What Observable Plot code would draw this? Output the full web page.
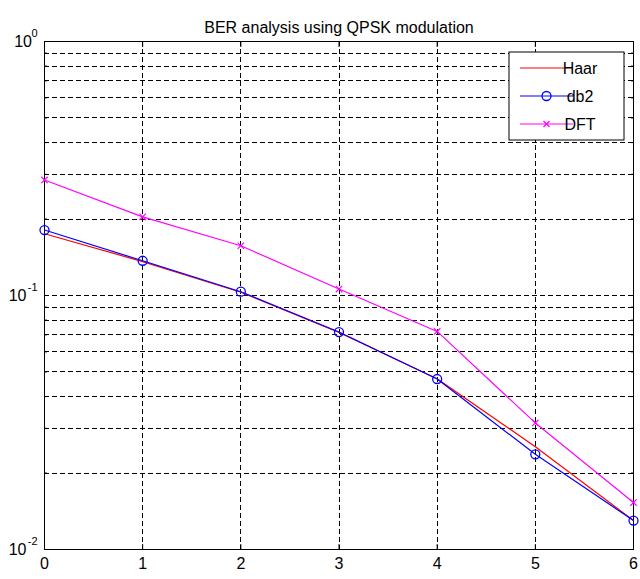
<!DOCTYPE html>
<html>
<head>
<meta charset="utf-8">
<script src="https://cdn.jsdelivr.net/npm/d3@7"></script>
<script src="https://cdn.jsdelivr.net/npm/@observablehq/plot@0.6"></script>
<style>
  html, body { margin: 0; padding: 0; background: #fff; }
  #chart { width: 640px; height: 579px; }
</style>
</head>
<body>
<div id="chart"></div>
<script>
// ---- data ----
const snr = [0, 1, 2, 3, 4, 5, 6];
const haar = [0.175, 0.136, 0.103, 0.0715, 0.047, 0.0254, 0.0130];
const db2  = [0.181, 0.137, 0.1035, 0.0718, 0.0469, 0.0237, 0.0130];
const dft  = [0.285, 0.204, 0.157, 0.106, 0.0722, 0.0315, 0.0153];
const seriesNames = ["Haar", "db2", "DFT"];
const xTicks = [0, 1, 2, 3, 4, 5, 6];
const xGrid = [1, 2, 3, 4, 5];
const yMajor = [1, 0.1, 0.01];
const yExponents = ["0", "-1", "-2"];
const yMinor = [0.02, 0.03, 0.04, 0.05, 0.06, 0.07, 0.08, 0.09, 0.2, 0.3, 0.4, 0.5, 0.6, 0.7, 0.8, 0.9];
const yGrid = [0.02, 0.03, 0.04, 0.05, 0.06, 0.07, 0.08, 0.09, 0.1, 0.2, 0.3, 0.4, 0.5, 0.6, 0.7, 0.8, 0.9];
const title = "BER analysis using QPSK modulation";

const rows = [];
seriesNames.forEach((name, k) => {
  const vals = [haar, db2, dft][k];
  snr.forEach((x, i) => rows.push({series: name, x, y: vals[i]}));
});
const colors = {Haar: "#ff0000", db2: "#0000ff", DFT: "#ff00ff"};

const font = "'Liberation Sans', Arial, Helvetica, sans-serif";
const gridStyle = {stroke: "#000", strokeOpacity: 1, strokeWidth: 1, strokeDasharray: "5,3", shapeRendering: "crispEdges"};

const expLabelMarks = yMajor.flatMap((v, i) => {
  const ew = yExponents[i].length * 5.5;
  return [
    Plot.text([v], {y: d => d, text: () => "10", frameAnchor: "left", textAnchor: "end",
      dx: -7 - ew, fontSize: 16, fill: "#000"}),
    Plot.text([yExponents[i]], {y: () => v, text: d => d, frameAnchor: "left", textAnchor: "end",
      dx: -7, dy: -8, fontSize: 11, fill: "#000"})
  ];
});

const plot = Plot.plot({
  width: 640,
  height: 579,
  marginLeft: 44,
  marginRight: 7,
  marginTop: 41,
  marginBottom: 30,
  style: {fontFamily: font, background: "#fff", color: "#000"},
  x: {domain: [0, 6]},
  y: {type: "log", domain: [0.01, 1]},
  marks: [
    Plot.gridX(xGrid, gridStyle),
    Plot.gridY(yGrid, gridStyle),
    // inward ticks
    Plot.axisX(xTicks, {anchor: "bottom", tickSize: -5, tickFormat: () => "", label: null}),
    Plot.axisX(xTicks, {anchor: "top", tickSize: -5, tickFormat: () => "", label: null}),
    Plot.axisY(yMajor, {anchor: "left", tickSize: -5, tickFormat: () => "", label: null}),
    Plot.axisY(yMajor, {anchor: "right", tickSize: -5, tickFormat: () => "", label: null}),
    Plot.axisY(yMinor, {anchor: "left", tickSize: -3, tickFormat: () => "", label: null}),
    Plot.axisY(yMinor, {anchor: "right", tickSize: -3, tickFormat: () => "", label: null}),
    // tick labels
    Plot.axisX(xTicks, {anchor: "bottom", tickSize: 0, tickPadding: 8, fontSize: 16, label: null, tickFormat: d => String(d)}),
    ...expLabelMarks,
    // title
    Plot.text([title], {frameAnchor: "top", dy: -20, fontSize: 16, fill: "#000"}),
    Plot.frame({stroke: "#000", strokeWidth: 1}),
    // series
    Plot.line(rows, {x: "x", y: "y", z: "series", stroke: d => colors[d.series], strokeWidth: 1.2}),
    Plot.dot(rows.filter(d => d.series === "db2"), {x: "x", y: "y", r: 4.5, stroke: "#0000ff", strokeWidth: 1.3, fill: "none", symbol: "circle"}),
    Plot.dot(rows.filter(d => d.series === "DFT"), {x: "x", y: "y", r: 3, stroke: "#ff00ff", strokeWidth: 1.2, symbol: "times"})
  ]
});

document.getElementById("chart").appendChild(plot);

// legend (MATLAB-style box, upper right inside the axes)
const svg = d3.select(plot);
const lx = 509, ly = 52, lw = 115, lh = 88;
const lg = svg.append("g").attr("font-family", font);
lg.append("rect").attr("x", lx).attr("y", ly).attr("width", lw).attr("height", lh)
  .attr("fill", "#fff").attr("stroke", "#000").attr("stroke-width", 1);
seriesNames.forEach((name, i) => {
  const yy = ly + 16 + i * 28;
  lg.append("line").attr("x1", lx + 11).attr("x2", lx + 64).attr("y1", yy).attr("y2", yy)
    .attr("stroke", colors[name]).attr("stroke-width", 1.2);
  const cx = lx + 37.5;
  if (name === "db2") {
    lg.append("circle").attr("cx", cx).attr("cy", yy).attr("r", 4.5)
      .attr("fill", "none").attr("stroke", colors[name]).attr("stroke-width", 1.3);
  } else if (name === "DFT") {
    lg.append("path").attr("d", `M${cx-3},${yy-3}L${cx+3},${yy+3}M${cx-3},${yy+3}L${cx+3},${yy-3}`)
      .attr("stroke", colors[name]).attr("stroke-width", 1.2);
  }
  lg.append("text").attr("x", lx + 71).attr("y", yy).attr("dy", "0.35em")
    .attr("font-size", 16).attr("fill", "#000").text(name);
});
</script>
</body>
</html>
